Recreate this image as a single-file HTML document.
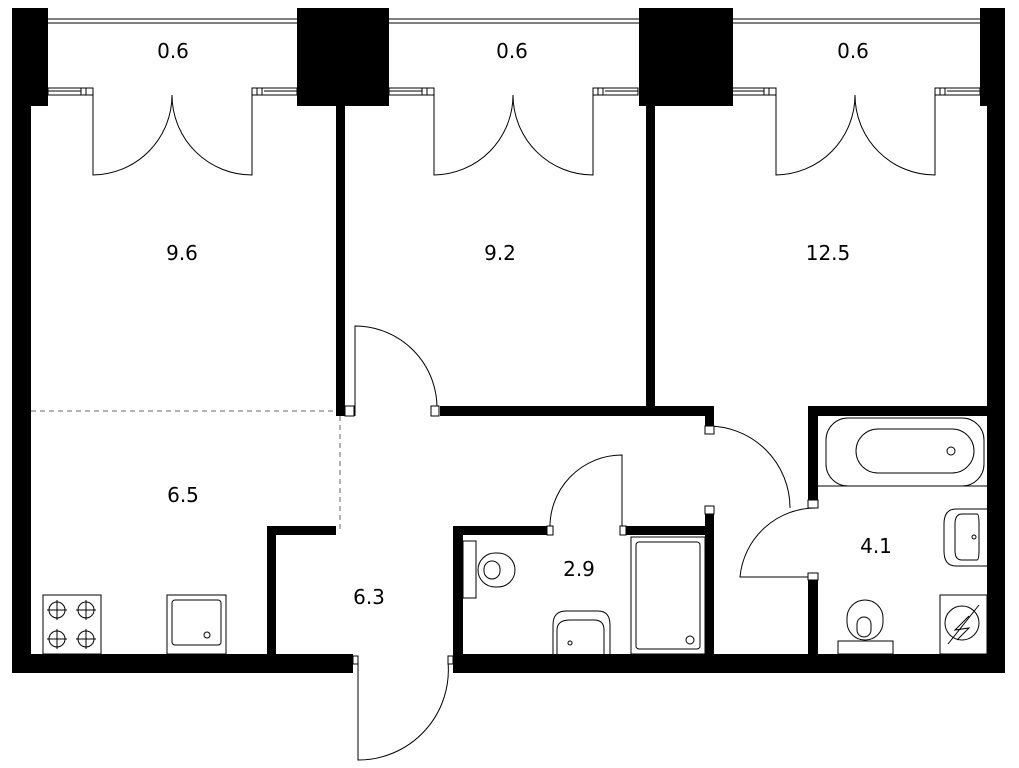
<!DOCTYPE html>
<html><head><meta charset="utf-8"><style>
html,body{margin:0;padding:0;background:#fff}
svg{display:block}
text{font-family:"DejaVu Sans","Liberation Sans",sans-serif;font-size:20px;fill:#000;text-anchor:middle}
</style></head><body>
<svg width="1019" height="768" viewBox="0 0 1019 768" xmlns="http://www.w3.org/2000/svg">
<g fill="#000">
<!-- outer walls -->
<rect x="12" y="8" width="36" height="98"/>
<rect x="12" y="8" width="19" height="665"/>
<rect x="12" y="654" width="341" height="19"/>
<rect x="453" y="654" width="552" height="19"/>
<rect x="980" y="8" width="25" height="98"/>
<rect x="987" y="8" width="18" height="665"/>
<!-- pillars -->
<rect x="297" y="8" width="92" height="98"/>
<rect x="639" y="8" width="94" height="98"/>
<!-- interior walls -->
<rect x="336" y="106" width="9" height="310"/>
<rect x="646" y="106" width="9" height="305"/>
<rect x="440" y="406" width="274" height="10"/>
<rect x="705" y="406" width="9" height="20"/>
<rect x="705" y="514" width="9" height="140"/>
<rect x="808" y="406" width="10" height="94"/>
<rect x="808" y="406" width="180" height="10"/>
<rect x="808" y="580" width="10" height="74"/>
<rect x="267" y="526" width="9" height="128"/>
<rect x="267" y="526" width="69" height="9"/>
<rect x="453" y="526" width="94" height="9"/>
<rect x="626" y="526" width="88" height="9"/>
<rect x="453" y="526" width="10" height="147"/>
</g>
<g fill="none" stroke="#000" stroke-width="1">
<!-- top glazing -->
<line x1="48" y1="19" x2="297" y2="19"/><line x1="48" y1="23" x2="297" y2="23"/>
<line x1="389" y1="19" x2="639" y2="19"/><line x1="389" y1="23" x2="639" y2="23"/>
<line x1="733" y1="19" x2="980" y2="19"/><line x1="733" y1="23" x2="980" y2="23"/>
<!-- balcony window stubs and doors -->
<g id="bd">
<rect x="48" y="88" width="45" height="7"/><line x1="48" y1="91" x2="81" y2="91"/><line x1="81" y1="88" x2="81" y2="95"/><line x1="86" y1="88" x2="86" y2="95"/>
<rect x="252" y="88" width="45" height="7"/><line x1="264" y1="91" x2="297" y2="91"/><line x1="257" y1="88" x2="257" y2="95"/><line x1="262" y1="88" x2="262" y2="95"/>
<path d="M93 95 V175 A80 80 0 0 0 172 95"/>
<path d="M252 95 V175 A80 80 0 0 1 172 95"/>
</g>
<use href="#bd" x="341"/>
<use href="#bd" x="683"/>
<!-- doors -->
<path d="M355 416 V326 A82 82 0 0 1 437 410"/>
<rect x="345" y="406" width="9" height="10" fill="#fff"/>
<rect x="431" y="406" width="8" height="10" fill="#fff"/>
<path d="M707 426 A82 82 0 0 1 790 508"/>
<line x1="707" y1="426" x2="707" y2="426"/>
<rect x="705" y="426" width="9" height="8" fill="#fff"/>
<rect x="705" y="506" width="9" height="8" fill="#fff"/>
<path d="M816 508 A76 76 0 0 0 740 577 H816"/>
<rect x="808" y="500" width="10" height="8" fill="#fff"/>
<rect x="808" y="573" width="10" height="7" fill="#fff"/>
<path d="M622 535 V455 A72 72 0 0 0 550 530"/>
<rect x="547" y="526" width="6" height="9" fill="#fff"/>
<rect x="620" y="526" width="6" height="9" fill="#fff"/>
<path d="M358 662 V760 A90 90 0 0 0 448 662"/>
<rect x="353" y="656" width="5" height="8" fill="#fff"/>
<rect x="448" y="656" width="5" height="8" fill="#fff"/>
<!-- dashed -->
<line x1="31" y1="411" x2="336" y2="411" stroke="#666" stroke-dasharray="5,4"/>
<line x1="340" y1="416" x2="340" y2="530" stroke="#666" stroke-dasharray="5,4"/>
<!-- kitchen -->
<rect x="43" y="595" width="58" height="59"/>
<circle cx="57" cy="610" r="8"/><circle cx="86" cy="610" r="8"/><circle cx="57" cy="639" r="8"/><circle cx="86" cy="639" r="8"/>
<path d="M47 610h20M57 600v20M76 610h20M86 600v20M47 639h20M57 629v20M76 639h20M86 629v20"/>
<rect x="167" y="595" width="59" height="59"/>
<rect x="172" y="600" width="49" height="45" rx="3"/>
<circle cx="207" cy="635" r="3"/>
<!-- bath 2.9 -->
<rect x="463" y="541" width="13" height="57"/>
<rect x="478" y="553" width="37" height="34" rx="17"/>
<rect x="484" y="561" width="16" height="18" rx="8"/>
<rect x="631" y="537" width="74" height="117"/>
<rect x="636" y="542" width="64" height="107" rx="3"/>
<circle cx="690" cy="640" r="4"/>
<path d="M553 654 V625 Q553 611 566 611 H598 Q610 611 610 625 V654"/>
<path d="M557 654 V630 Q557 620 570 620 H594 Q604 620 604 630 V654"/>
<circle cx="570" cy="643" r="2"/>
<!-- bath 4.1 -->
<rect x="826" y="418" width="158" height="68" rx="22"/>
<rect x="856" y="429" width="118" height="44" rx="22"/>
<circle cx="951" cy="451" r="4"/>
<line x1="818" y1="486" x2="987" y2="486"/>
<path d="M987 509 H956 Q944 509 944 524 V551 Q944 566 956 566 H987"/>
<path d="M977 514 H962 Q955 514 955 524 V551 Q955 560 962 560 H977 Q979 560 979 550 V524 Q979 514 977 514"/>
<circle cx="974" cy="537" r="2"/>
<rect x="940" y="595" width="47" height="59"/>
<circle cx="962" cy="623" r="17"/>
<path d="M948 644 L979 605 M969 616 L955 630 L969 628 L957 640"/>
<rect x="838" y="641" width="55" height="13"/>
<rect x="847" y="600" width="36" height="40" rx="18"/>
<rect x="857" y="617" width="14" height="20" rx="7"/>
</g>
<text x="173" y="58">0.6</text>
<text x="512" y="58">0.6</text>
<text x="853" y="58">0.6</text>
<text x="182" y="260">9.6</text>
<text x="500" y="260">9.2</text>
<text x="828" y="260">12.5</text>
<text x="183" y="502">6.5</text>
<text x="369" y="604">6.3</text>
<text x="579" y="576">2.9</text>
<text x="876" y="553">4.1</text>
</svg>
</body></html>
